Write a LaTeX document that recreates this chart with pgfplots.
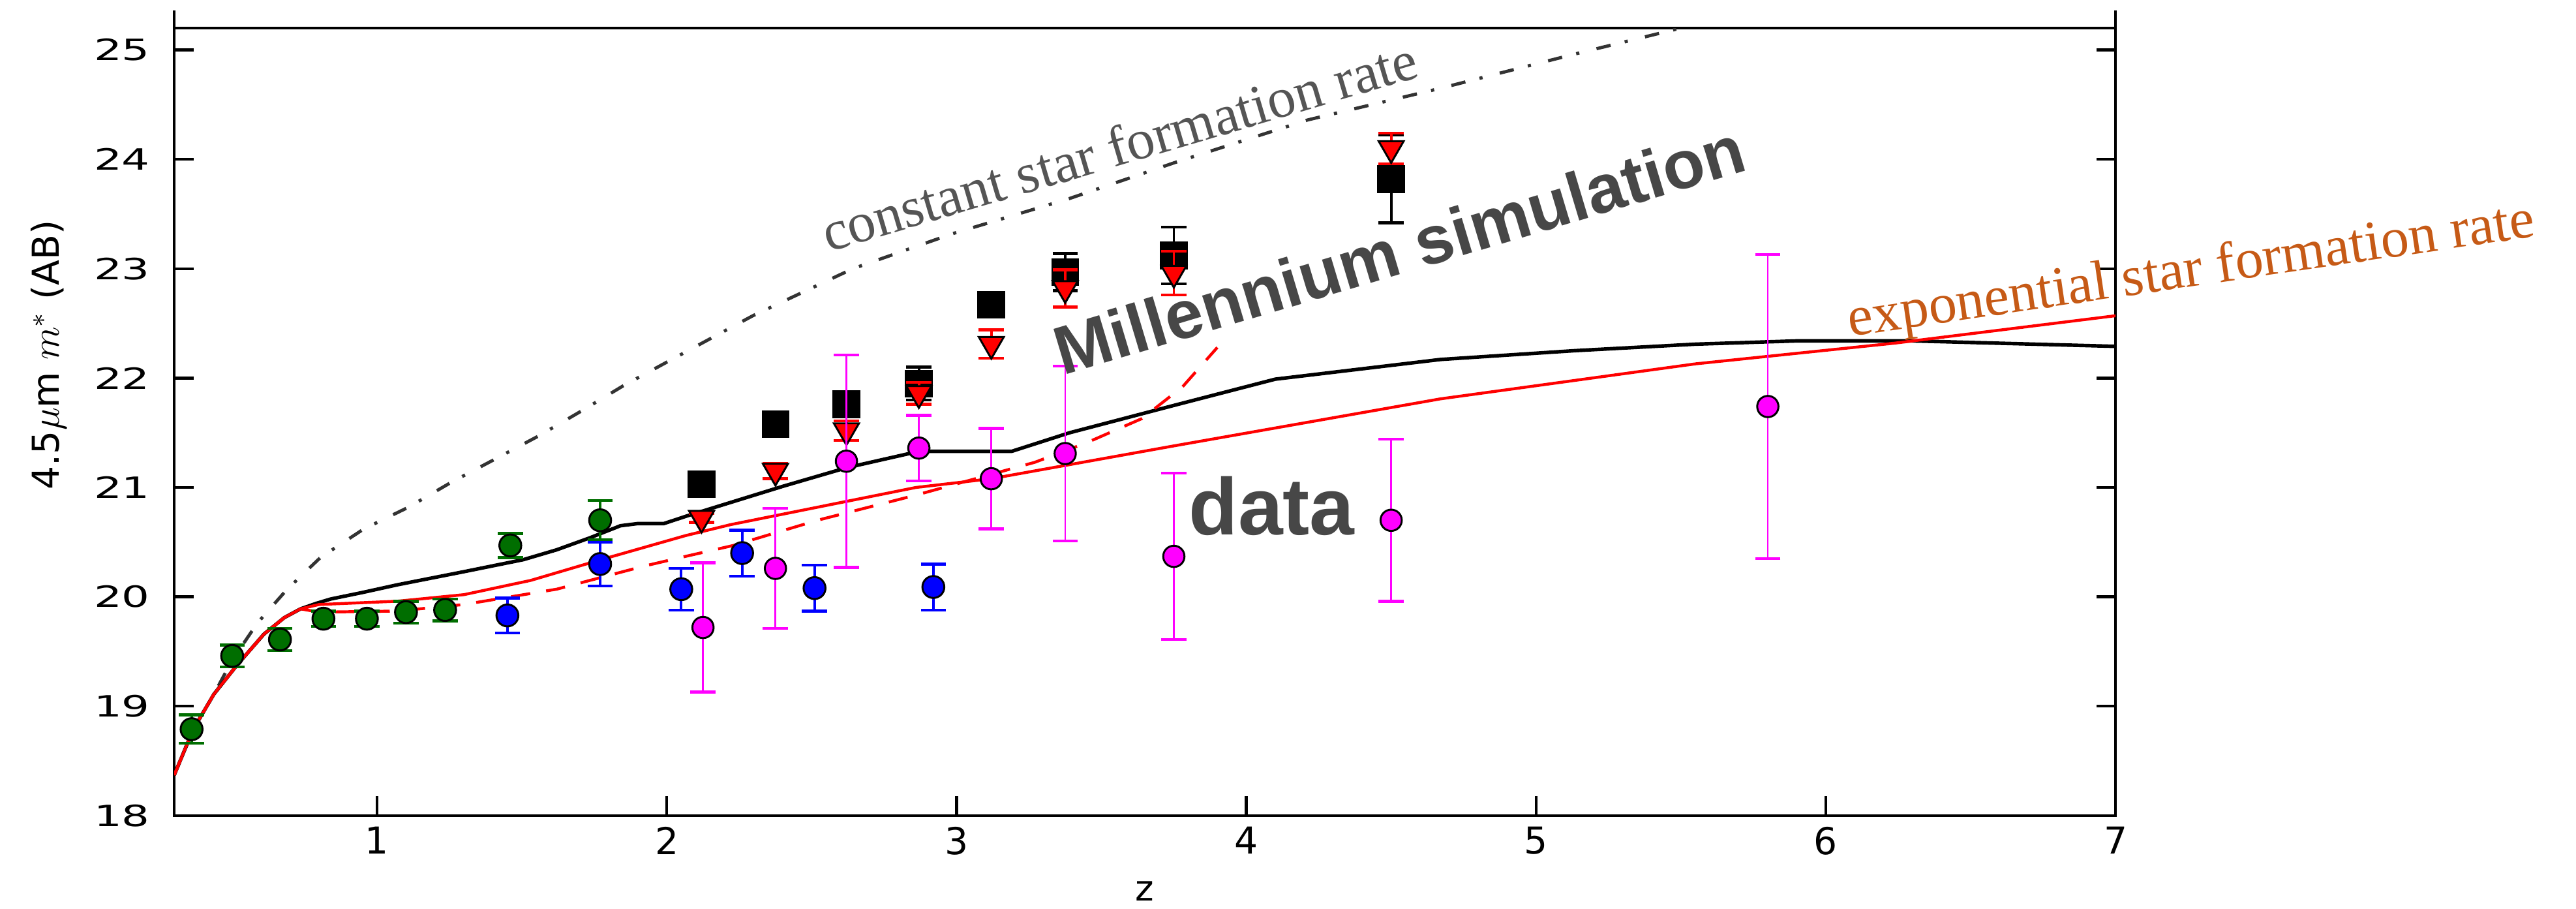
\documentclass[border=0pt]{standalone}
\usepackage{pgfplots}
\pgfplotsset{compat=1.18}
\usepackage{fontspec}
\setmainfont{DejaVu Sans}
\newfontfamily\annserif{Liberation Serif}
\newfontfamily\annsans{Liberation Sans}
\definecolor{dgreen}{HTML}{006E00}
\definecolor{annogray}{HTML}{555555}
\definecolor{darkanno}{HTML}{474747}
\definecolor{expo}{HTML}{C65A16}
\definecolor{dotgray}{HTML}{333333}
\definecolor{mag}{RGB}{255,0,255}
\definecolor{pblue}{RGB}{0,0,255}
\definecolor{pred}{RGB}{255,0,0}
\begin{document}
\begin{tikzpicture}
\path[use as bounding box] (0,0) rectangle (800pt,282pt);
\begin{axis}[
  at={(54.1pt,28.8pt)}, anchor=south west,
  scale only axis, width=602.9pt, height=244.5pt,
  xmin=0.3, xmax=7, ymin=18, ymax=25.2,
  xtick={1,2,3,4,5,6,7}, ytick={18,19,20,21,22,23,24,25},
  tick align=inside, xtick pos=left, ytick pos=both,
  major tick length=6pt,
  axis line style={line width=0.9pt},
  every tick/.style={line width=0.9pt, black},
  clip mode=individual,
  /pgf/number format/assume math mode=true,
  xticklabel style={font=\fontsize{11.5}{12}\selectfont},
  yticklabel style={font=\fontsize{9.1}{10}\selectfont, xscale=1.5, xshift=-1.5pt},
  xlabel={z},
  xlabel style={at={(axis description cs:0.5,-0.096)}, anchor=center, font=\fontsize{11}{12}\selectfont},
  ylabel={4.5$\mu$m $m^*$ (AB)},
  ylabel style={at={(axis description cs:-0.0645,0.585)}, anchor=center, font=\fontsize{11.5}{13}\selectfont},
]
% constant star formation rate
\addplot[dotgray, line width=1pt, dash pattern=on 4.5pt off 4.5pt on 1pt off 5.5pt] coordinates {
(0.30,18.37) (0.366,18.79) (0.437,19.11) (0.50,19.42) (0.587,19.76) (0.69,20.07)
(0.805,20.36) (0.954,20.62) (1.109,20.82) (1.258,21.05) (1.408,21.26) (1.557,21.47)
(1.706,21.70) (1.85,21.93) (2.01,22.16) (2.297,22.57) (2.642,23.00) (2.986,23.32)
(3.388,23.64) (3.753,23.97) (4.212,24.36) (4.671,24.65) (5.13,24.96) (5.50,25.20) (5.60,25.26)};
% Millennium simulation
\addplot[black, line width=1.1pt] coordinates {
(0.30,18.37) (0.366,18.79) (0.437,19.11) (0.518,19.38) (0.61,19.66) (0.68,19.81)
(0.736,19.89) (0.79,19.94) (0.84,19.98) (0.95,20.04) (1.07,20.11) (1.30,20.23)
(1.505,20.34) (1.62,20.43) (1.735,20.54) (1.84,20.65) (1.90,20.67) (1.99,20.67)
(2.07,20.74) (2.40,21.01) (2.62,21.18) (2.87,21.33) (3.19,21.33) (3.39,21.50)
(3.75,21.75) (4.10,21.99) (4.67,22.17) (5.13,22.25) (5.55,22.31) (5.90,22.34)
(6.30,22.34) (7.00,22.29)};
% exponential SFR, dashed
\addplot[pred, line width=0.9pt, dash pattern=on 6pt off 5pt] coordinates {
(0.30,18.37) (0.366,18.79) (0.437,19.11) (0.518,19.38) (0.61,19.66) (0.68,19.81)
(0.736,19.89) (0.80,19.86) (1.07,19.87) (1.30,19.93) (1.62,20.07) (1.92,20.28)
(2.065,20.37) (2.23,20.47) (2.52,20.70) (2.86,20.93) (3.27,21.23) (3.45,21.41)
(3.64,21.63) (3.78,21.92) (3.90,22.28)};
% exponential SFR, solid
\addplot[pred, line width=0.9pt] coordinates {
(0.30,18.37) (0.366,18.79) (0.437,19.11) (0.518,19.38) (0.61,19.66) (0.68,19.81)
(0.736,19.89) (0.80,19.93) (1.07,19.96) (1.30,20.02) (1.53,20.15) (1.76,20.33)
(2.065,20.56) (2.22,20.66) (2.86,21.00) (3.12,21.08) (3.75,21.38) (4.67,21.81)
(5.55,22.13) (6.24,22.32) (7.00,22.57)};
% green data
\addplot[only marks, mark=*, mark size=3.4pt, mark options={fill=dgreen, draw=black, line width=0.6pt},
  error bars/.cd, y dir=both, y explicit,
  error bar style={color=dgreen, line width=0.8pt},
  error mark options={rotate=90, color=dgreen, line width=0.9pt, mark size=3.9pt}]
coordinates {
(0.36,18.79) +- (0,0.13) (0.50,19.46) +- (0,0.10) (0.665,19.61) +- (0,0.10)
(0.815,19.80) +- (0,0.07) (0.965,19.80) +- (0,0.07) (1.10,19.86) +- (0,0.10)
(1.235,19.88) +- (0,0.10) (1.46,20.47) +- (0,0.11) (1.77,20.70) +- (0,0.18)};
% blue data
\addplot[only marks, mark=*, mark size=3.4pt, mark options={fill=pblue, draw=black, line width=0.6pt},
  error bars/.cd, y dir=both, y explicit,
  error bar style={color=pblue, line width=0.8pt},
  error mark options={rotate=90, color=pblue, line width=0.9pt, mark size=3.9pt}]
coordinates {
(1.45,19.83) +- (0,0.16) (1.77,20.30) +- (0,0.20) (2.05,20.07) +- (0,0.19)
(2.26,20.40) +- (0,0.21) (2.51,20.08) +- (0,0.21) (2.92,20.09) +- (0,0.21)};
% black squares
\addplot[only marks, mark=square*, mark size=4.1pt, mark options={fill=black, draw=black},
  error bars/.cd, y dir=both, y explicit,
  error bar style={color=black, line width=0.8pt},
  error mark options={rotate=90, color=black, line width=0.9pt, mark size=3.9pt}]
coordinates {
(2.12,21.03) +- (0,0.03) (2.375,21.58) +- (0,0.03) (2.62,21.76) +- (0,0.03)
(2.87,21.95) +- (0,0.15) (3.12,22.67) +- (0,0.04) (3.375,22.97) +- (0,0.17)
(3.75,23.12) +- (0,0.26) (4.50,23.82) +- (0,0.40)};
% red triangles
\addplot[only marks, mark=triangle*, mark size=4.5pt, mark options={fill=pred, draw=black, line width=0.6pt, rotate=180},
  error bars/.cd, y dir=both, y explicit,
  error bar style={color=pred, line width=0.8pt},
  error mark options={rotate=90, color=pred, line width=0.9pt, mark size=3.9pt}]
coordinates {
(2.12,20.72) +- (0,0.04) (2.375,21.15) +- (0,0.07) (2.62,21.52) +- (0,0.09)
(2.87,21.86) +- (0,0.10) (3.12,22.31) +- (0,0.13) (3.375,22.82) +- (0,0.17)
(3.75,22.96) +- (0,0.20) (4.50,24.10) +- (0,0.14)};
% magenta data
\addplot[only marks, mark=*, mark size=3.3pt, mark options={fill=mag, draw=black, line width=0.6pt},
  error bars/.cd, y dir=both, y explicit,
  error bar style={color=mag, line width=0.55pt},
  error mark options={rotate=90, color=mag, line width=0.9pt, mark size=3.9pt}]
coordinates {
(2.125,19.72) +- (0,0.59) (2.375,20.26) +- (0,0.55) (2.62,21.24) +- (0,0.97)
(2.87,21.36) +- (0,0.30) (3.12,21.08) +- (0,0.46) (3.375,21.31) +- (0,0.80)
(3.75,20.37) +- (0,0.76) (4.50,20.70) +- (0,0.74) (5.80,21.74) +- (0,1.39)};
% annotations
\node[anchor=base west, inner sep=0pt, rotate=16.5, text=annogray, font={\annserif\fontsize{17.5}{20}\selectfont}] at (axis cs:2.556,23.15) {constant star formation rate};
\node[anchor=base west, inner sep=0pt, rotate=16.7, text=darkanno, font={\annsans\bfseries\fontsize{21.2}{24}\selectfont}] at (axis cs:3.365,22.02) {Millennium simulation};
\node[anchor=base west, inner sep=0pt, text=darkanno, font={\annsans\bfseries\fontsize{25}{28}\selectfont}] at (axis cs:3.80,20.57) {data};
\node[anchor=base west, inner sep=0pt, rotate=8.3, text=expo, font={\annserif\fontsize{17.5}{20}\selectfont}] at (axis cs:6.083,22.38) {exponential star formation rate};
\draw[line width=0.9pt] (axis description cs:0,1) -- ++(0pt,5.5pt);
\draw[line width=0.9pt] (axis description cs:1,1) -- ++(0pt,5.5pt);
\end{axis}
\end{tikzpicture}
\end{document}
